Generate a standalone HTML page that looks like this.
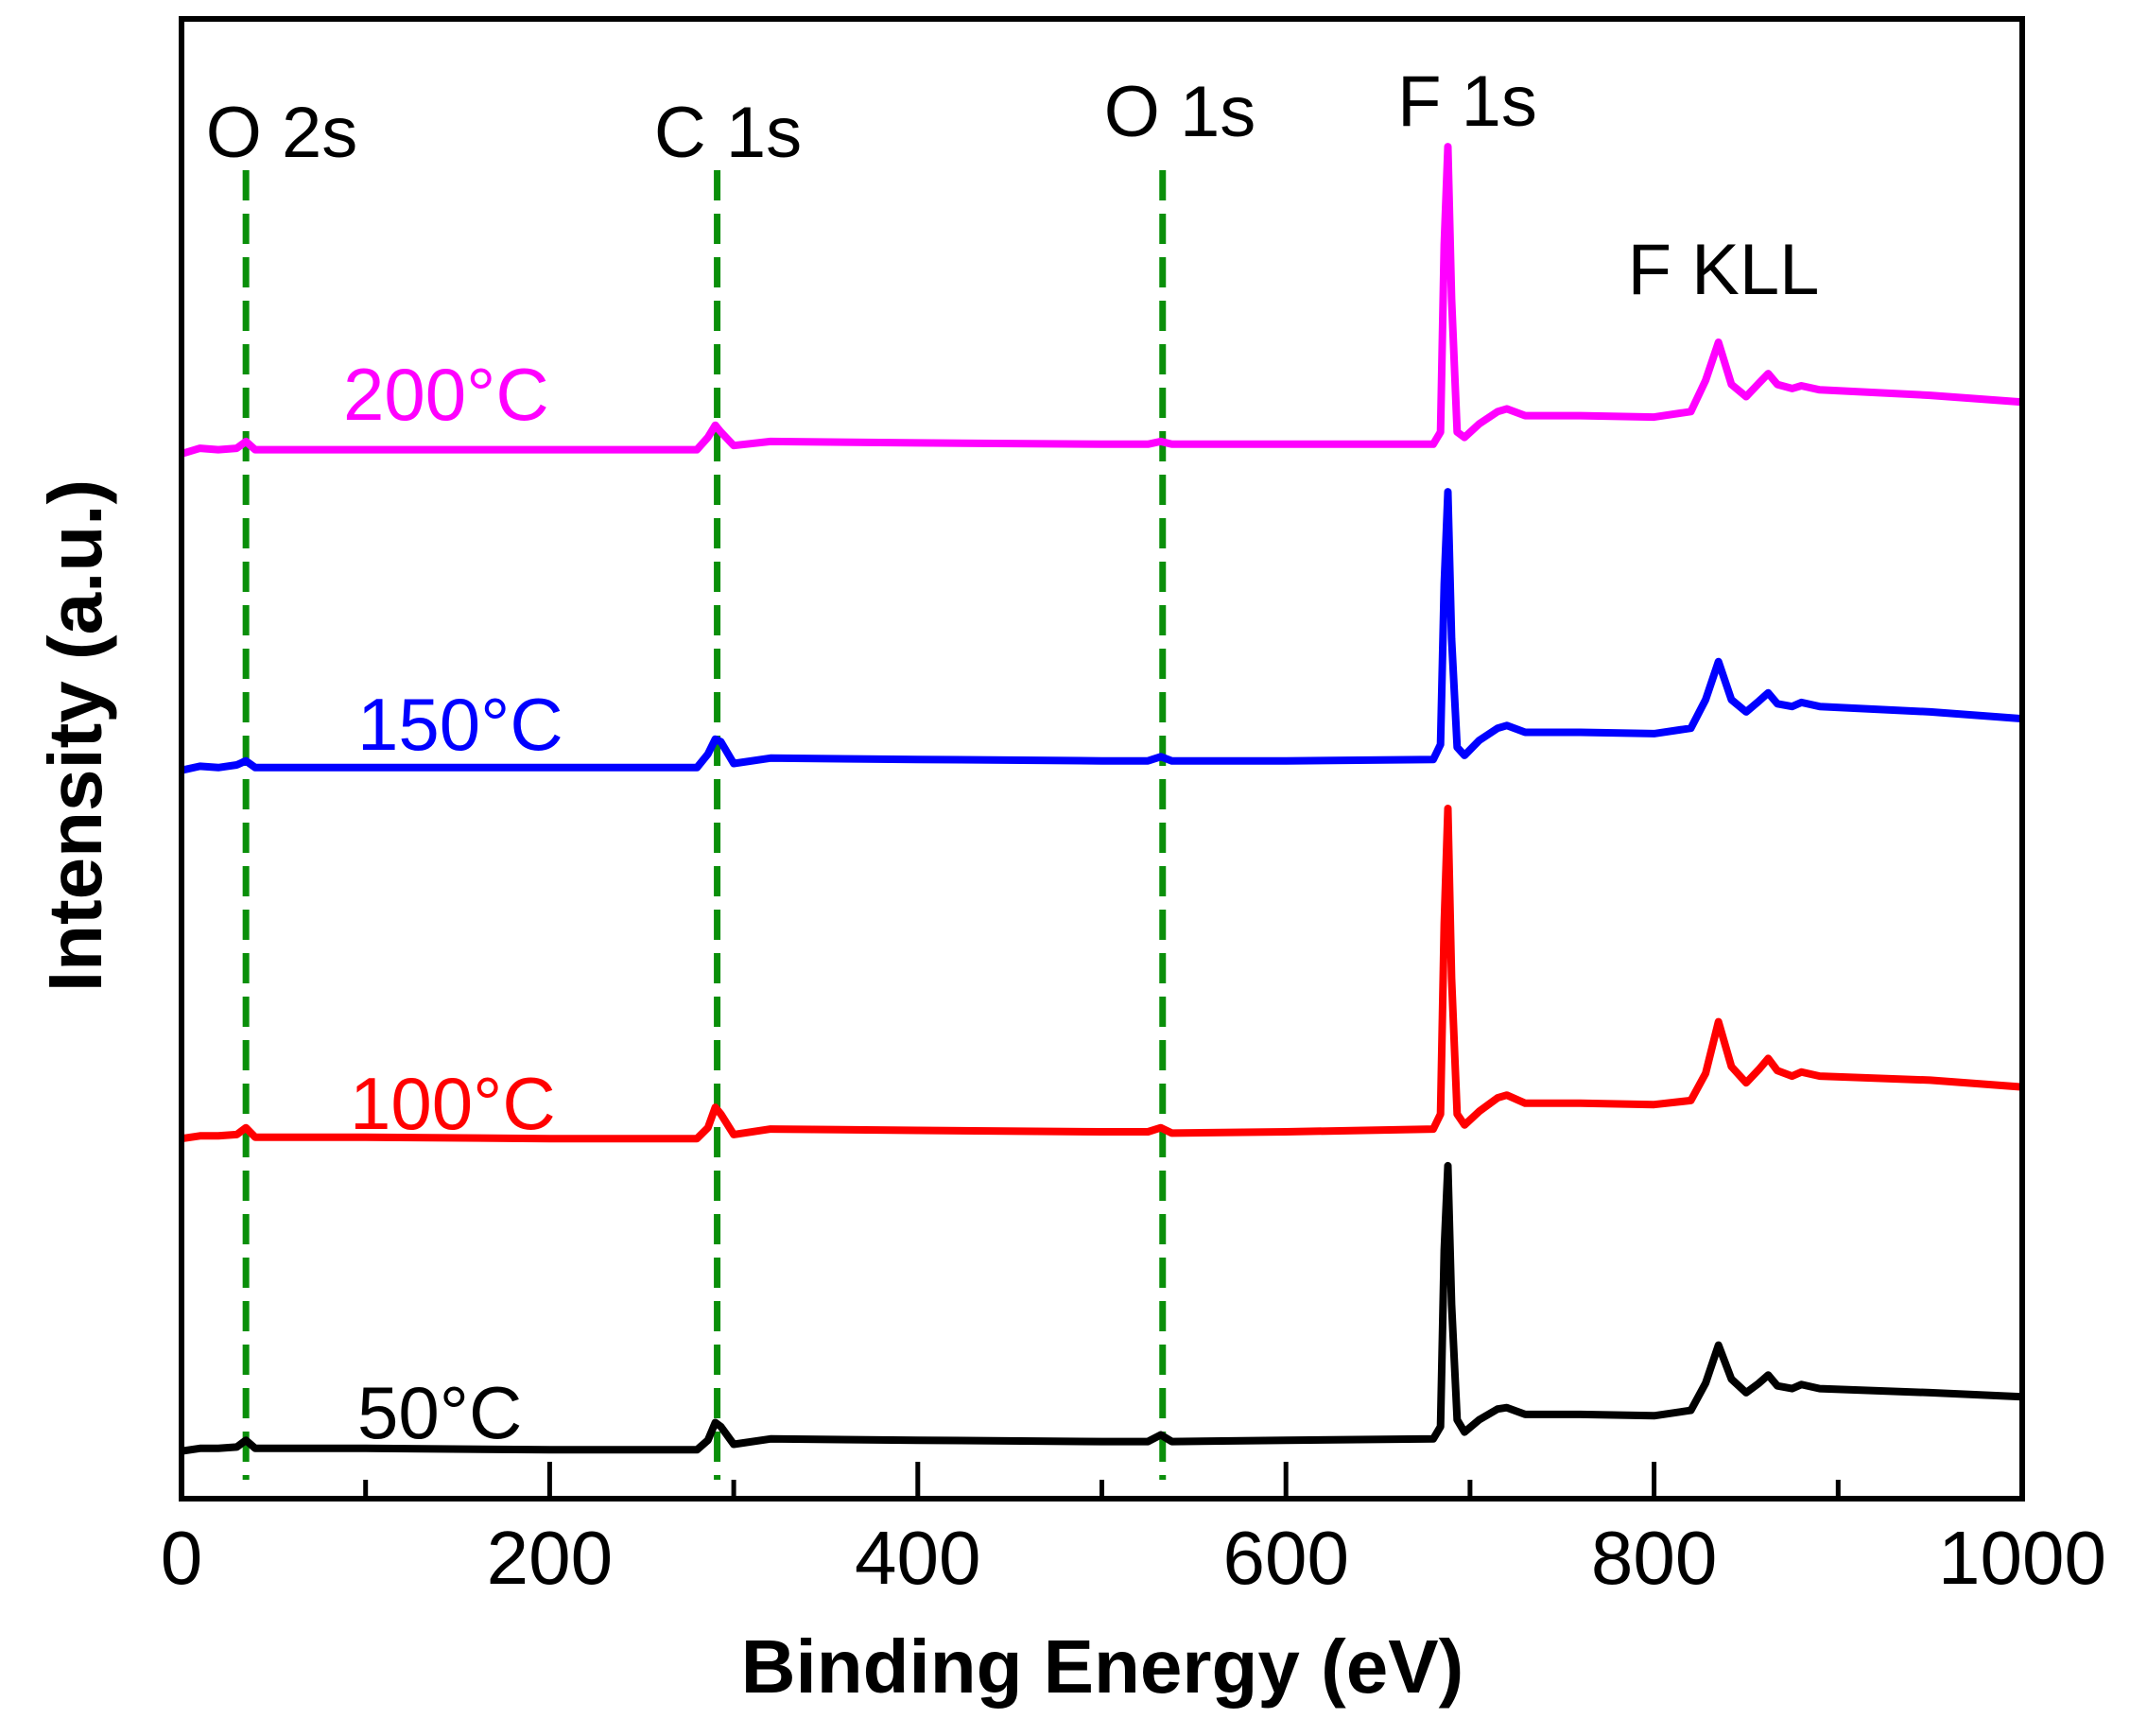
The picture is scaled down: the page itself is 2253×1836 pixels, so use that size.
<!DOCTYPE html>
<html><head><meta charset="utf-8"><style>
html,body{margin:0;padding:0;background:#fff;}
svg{display:block;font-family:"Liberation Sans",Arial,sans-serif;}
</style></head><body>
<svg id="chart" width="2253" height="1836" viewBox="0 0 2253 1836" xmlns="http://www.w3.org/2000/svg">
<g id="plot"></g>
</svg>
<script>
const energies=[0,10,20,30,35,40,50,100,200,280,286,290,293,300,320,400,500,525,532,538,600,680,684,686,688,690,693,697,705,715,720,730,760,800,820,828,835,842,850,857,862,867,875,880,890,950,1000];
const series50=[35,37,37,38,43,37,37,37,36,36,43,56,53,40,44,43,42,42,47,42,43,44,53,183,245,143,58,49,58,66,67,62,62,61,65,85,113,88,78,85,91,83,81,84,81,78,75];
const series100=[265,267,267,268,273,266,266,266,265,265,273,288,283,268,272,271,270,270,273,269,270,272,283,423,508,383,283,275,285,295,297,291,291,290,293,313,351,318,306,316,324,315,311,314,311,308,303];
const series150=[536,539,538,540,543,538,538,538,538,538,548,559,557,541,545,544,543,543,546,543,543,544,555,673,741,633,553,547,558,567,569,564,564,563,567,588,616,588,579,587,593,585,583,586,583,579,574];
const series200=[769,773,772,773,778,772,772,772,772,772,781,790,785,775,778,777,776,776,778,776,776,776,785,923,995,883,785,781,791,800,802,797,797,796,800,823,851,820,811,821,828,820,817,819,816,812,807];
const seriesLabels=["50°C","100°C","150°C","200°C"];
const seriesColors=["#000000","#ff0000","#0000ff","#ff00ff"];
const xTicks=[0,200,400,600,800,1000];
const xMinor=[100,300,500,700,900];
const peakPositions=[35,291,533];
const annotations=[["O 2s",35],["C 1s",291],["O 1s",533],["F 1s",690],["F KLL",880]];

const L=192,R=2139,T=20,B=1585;
const X=e=>L+(e/1000)*(R-L);
const Y=v=>B-(v/1089)*(B-T);
const NS="http://www.w3.org/2000/svg";
const g=document.getElementById('plot');
function mk(tag,attrs,parent){const el=document.createElementNS(NS,tag);for(const k in attrs)el.setAttribute(k,attrs[k]);(parent||g).appendChild(el);return el;}

peakPositions.forEach((p,i)=>{
  const el=mk('line',{x1:X(p),x2:X(p),y1:180,y2:1565,stroke:'#0a8f0a','stroke-width':7,'stroke-dasharray':'32,14'});
  
  
});

const all=[series50,series100,series150,series200];
all.forEach((s,i)=>{
  const d=energies.map((e,j)=>(j?'L':'M')+X(e).toFixed(1)+','+Y(s[j]).toFixed(1)).join(' ');
  const el=mk('path',{d:d,fill:'none',stroke:seriesColors[i],'stroke-width':8,'stroke-linejoin':'round'});
  
  
});

const labelPos=[[378,1521],[370,1194],[378,793],[363,444]];
seriesLabels.forEach((t,i)=>{
  const el=mk('text',{x:labelPos[i][0],y:labelPos[i][1],fill:seriesColors[i],'font-size':78});
  el.textContent=t;
  
  
});

const annY=[166,166,144,133,311];
annotations.forEach((a,i)=>{
  const cx=[298,770,1248,1552,1823][i];
  const el=mk('text',{x:cx,y:annY[i],'text-anchor':'middle','font-size':76,fill:'#000'});
  el.textContent=a[0];
  
  
});

const fr=mk('rect',{x:L,y:T,width:R-L,height:B-T,fill:'none',stroke:'#000','stroke-width':6});



xTicks.forEach(t=>{
  const tk=mk('line',{x1:X(t),x2:X(t),y1:B,y2:B-39,stroke:'#000','stroke-width':5});
  
  
  const lb=mk('text',{x:X(t),y:1675,'text-anchor':'middle','font-size':80,fill:'#000'});
  lb.textContent=t;
  
  
});
xMinor.forEach(t=>{
  const tk=mk('line',{x1:X(t),x2:X(t),y1:B,y2:B-20,stroke:'#000','stroke-width':5});
  
  
});

const xl=mk('text',{x:1166,y:1790,'text-anchor':'middle','font-size':80,'font-weight':'bold',fill:'#000'});
xl.textContent='Binding Energy (eV)';



const yl=mk('text',{x:0,y:0,'text-anchor':'middle','font-size':80,'font-weight':'bold',fill:'#000',transform:'translate(107,778) rotate(-90)'});
yl.textContent='Intensity (a.u.)';


</script>
</body></html>
